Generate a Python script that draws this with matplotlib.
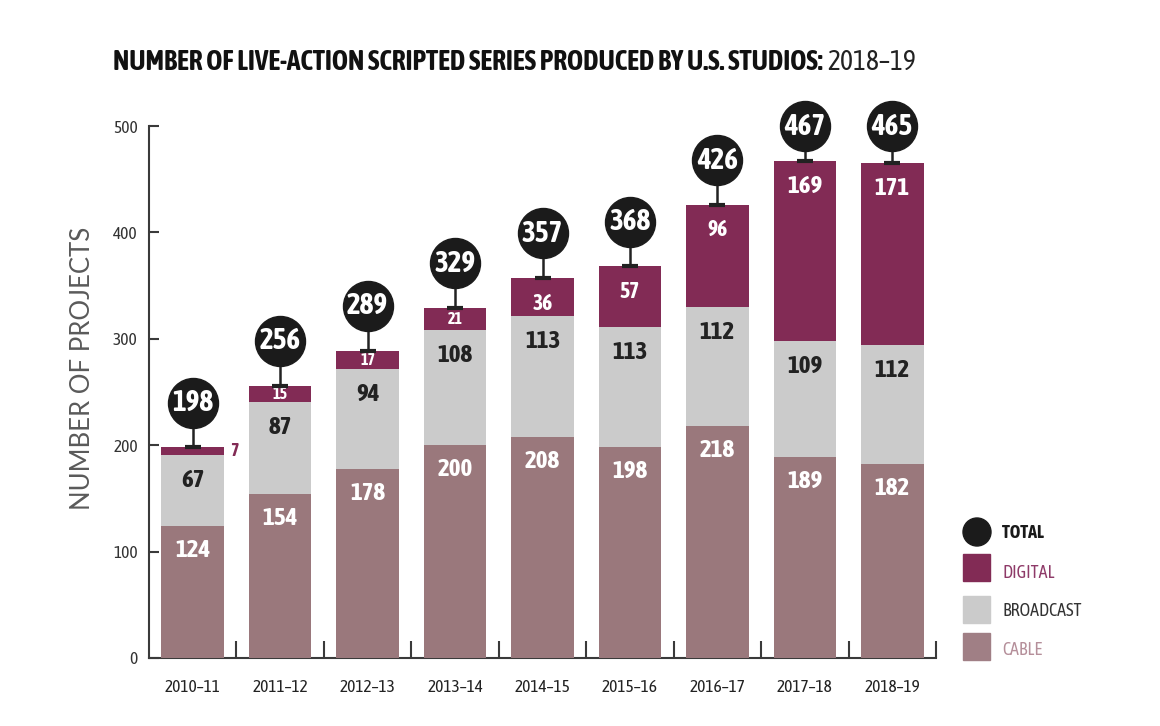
import numpy as np
import matplotlib
matplotlib.use('Agg')
import matplotlib.pyplot as plt
from matplotlib.patches import Circle, Rectangle

plt.rcParams['font.family'] = ['Asap Condensed', 'DejaVu Sans']

# 数据
seasons = ['2010–11', '2011–12', '2012–13', '2013–14', '2014–15',
           '2015–16', '2016–17', '2017–18', '2018–19']
cable = [124, 154, 178, 200, 208, 198, 218, 189, 182]
broadcast = [67, 87, 94, 108, 113, 113, 112, 109, 112]
digital = [7, 15, 17, 21, 36, 57, 96, 169, 171]
totals = [198, 256, 289, 329, 357, 368, 426, 467, 465]

# 颜色
c_cable = '#9a787c'
c_broad = '#cbcbcb'
c_digi = '#822b55'
c_axis = '#3a3a3a'

W, H = 1160, 726
fig = plt.figure(figsize=(W / 100, H / 100), dpi=100)

# 像素坐标的辅助画布（标题、图例）
pax = fig.add_axes([0, 0, 1, 1], zorder=0)
pax.set_xlim(0, W)
pax.set_ylim(H, 0)
pax.axis('off')

ax = fig.add_axes([149 / W, (H - 658) / H, (936 - 149) / W, 532 / H], zorder=1)
ax.patch.set_alpha(0)

x = np.arange(len(seasons))
bw = 0.715
cable = np.array(cable)
broadcast = np.array(broadcast)
digital = np.array(digital)

ax.bar(x, cable, bw, color=c_cable, zorder=3)
ax.bar(x, broadcast, bw, bottom=cable, color=c_broad, zorder=3)
ax.bar(x, digital, bw, bottom=cable + broadcast, color=c_digi, zorder=3)

# 分段数值
for i in range(len(x)):
    ax.text(i, cable[i] - 23, str(cable[i]), ha='center', va='center',
            color='white', fontsize=18, fontweight='bold', zorder=4)
    b_top = cable[i] + broadcast[i]
    ax.text(i, b_top - 24, str(broadcast[i]), ha='center', va='center',
            color='#222222', fontsize=18, fontweight='bold', zorder=4)
    d = digital[i]
    if d < 10:
        ax.text(i + bw / 2 + 0.07, b_top + d / 2, str(d), ha='left', va='center',
                color=c_digi, fontsize=13, fontweight='bold', zorder=4)
    elif d < 25:
        ax.text(i, b_top + d / 2, str(d), ha='center', va='center',
                color='white', fontsize=11.5, fontweight='bold', zorder=4)
    else:
        fs = 15.5 if d < 100 else 18
        ax.text(i, b_top + d - 24, str(d), ha='center', va='center',
                color='white', fontsize=fs, fontweight='bold', zorder=4)

# 总数圆圈
for i, t in enumerate(totals):
    cy = min(t + 42, 500)
    ax.plot([i, i], [t, cy], color='#222222', lw=1.8, zorder=4, clip_on=False)
    ax.plot(i, t, marker='_', markersize=12, mew=3, color='#222222', zorder=4,
            clip_on=False)
    ax.scatter(i, cy, s=36 ** 2, color='#1b1b1b', zorder=5, clip_on=False)
    ax.text(i, cy, str(t), ha='center', va='center', color='white',
            fontsize=21, fontweight='bold', zorder=6)

# 坐标轴
ax.set_xlim(-0.5, 8.5)
ax.set_ylim(0, 500)
for s in ['top', 'right']:
    ax.spines[s].set_visible(False)
for s in ['left', 'bottom']:
    ax.spines[s].set_color(c_axis)
    ax.spines[s].set_linewidth(1.5)
ax.set_xticks(x)
ax.set_xticklabels(seasons)
ax.set_xticks(np.arange(0.5, 9, 1), minor=True)
ax.tick_params(axis='x', which='major', length=0, pad=15, labelsize=12.5,
               labelcolor='#222222')
ax.tick_params(axis='x', which='minor', direction='in', length=12, width=1.5,
               color=c_axis)
ax.set_yticks([0, 100, 200, 300, 400, 500])
ax.tick_params(axis='y', direction='in', length=7, width=1.5, color=c_axis,
               pad=8, labelsize=12.5, labelcolor='#333333')

fig.text(83 / W, 1 - 368 / H, 'NUMBER OF PROJECTS', rotation=90, ha='center',
         va='center', fontsize=18.5, color='#5a5a5a',
         family=['Lato', 'DejaVu Sans'])

# 标题
t1 = pax.text(113, 62, 'NUMBER OF LIVE-ACTION SCRIPTED SERIES PRODUCED BY U.S. STUDIOS:',
              ha='left', va='center', fontsize=18, fontweight='bold', color='#111111')
fig.canvas.draw()
bb = t1.get_window_extent()
t1.set_fontsize(18 * 710 / bb.width)
fig.canvas.draw()
bb = t1.get_window_extent()
pax.text(bb.x1 + 5, 62, '2018–19', ha='left', va='center',
         fontsize=t1.get_fontsize(), color='#222222')

# 图例
pax.add_patch(Circle((977, 532), 14, color='#1b1b1b'))
pax.add_patch(Rectangle((963, 554), 27, 27, color=c_digi))
pax.add_patch(Rectangle((963, 596), 27, 27, color=c_broad))
pax.add_patch(Rectangle((963, 633), 27, 27, color='#a07f85'))
pax.text(1002, 533, 'TOTAL', ha='left', va='center', fontsize=13,
         fontweight='bold', color='#1a1a1a')
pax.text(1002, 573, 'DIGITAL', ha='left', va='center', fontsize=13,
         color='#8e3a68')
pax.text(1002, 611, 'BROADCAST', ha='left', va='center', fontsize=13,
         color='#333333')
pax.text(1002, 650, 'CABLE', ha='left', va='center', fontsize=13,
         color='#b58f9a')

fig.savefig('out.png', dpi=100)
